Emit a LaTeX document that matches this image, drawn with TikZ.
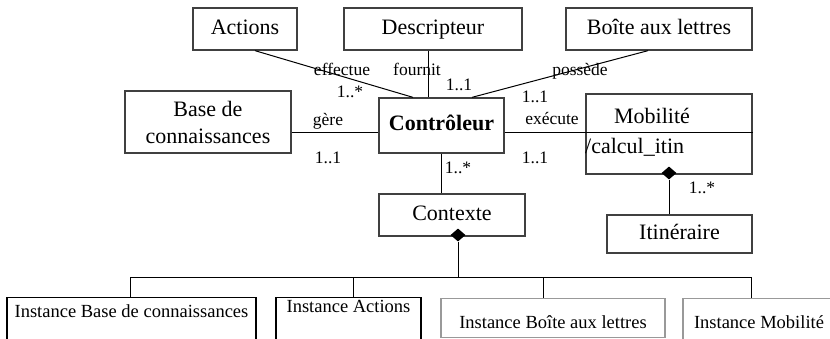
\documentclass[tikz,border=0pt]{standalone}
\usepackage{fontspec}
\setmainfont{Liberation Serif}
\usetikzlibrary{shapes.geometric}

\tikzset{
	classe/.style={draw=black!75, line width=1.3pt, inner sep=0pt, font=\fontsize{22}{27}\selectfont, text height=15pt, text depth=5pt},
	classe2/.style={draw=black!75, line width=1.3pt, inner sep=0pt, align=center, font=\fontsize{22}{27}\selectfont},
	instance/.style={draw=black, line width=1.3pt, inner xsep=0pt, inner ysep=4pt, anchor=north, font=\fontsize{18.5}{22}\selectfont},
	lien/.style={line width=1pt},
	role/.style={inner sep=0pt, anchor=base, font=\fontsize{17.5}{20}\selectfont},
	losange/.style={diamond, fill=black, inner sep=0pt, minimum width=15pt, minimum height=13pt},
}

\begin{document}
\begin{tikzpicture}[x=1pt,y=-1pt]
	
	\useasboundingbox (0,0) rectangle (830,338);
	\clip (0,0) rectangle (830,338);
	
	% classes
	\node [classe, minimum width=104pt, minimum height=42pt] (actions) at (245,29) {Actions};
	\node [classe, minimum width=178pt, minimum height=42pt] (descr) at (433,29) {Descripteur};
	\node [classe, minimum width=186pt, minimum height=42pt] (boite) at (659,29) {Boîte aux lettres};
	\node [classe2, minimum width=166pt, minimum height=62pt] (base) at (208,122) {Base de\\connaissances};
	\node [classe, minimum width=125pt, minimum height=55pt, font=\fontsize{22}{27}\selectfont\bfseries] (ctrl) at (441.5,125.5) {Contrôleur};
	\node [classe, minimum width=166pt, minimum height=80pt] (mob) at (669,134) {};
	\node [inner sep=0pt, anchor=base, font=\fontsize{22}{27}\selectfont] (mobnom) at (652,123) {Mobilité};
	\node [inner sep=0pt, anchor=base west, font=\fontsize{22}{27}\selectfont] (mobattr) at (585,153) {/calcul\_itin};
	\node [classe, minimum width=145pt, minimum height=38pt] (itin) at (679.5,234) {Itinéraire};
	\node [classe, minimum width=146pt, minimum height=42pt] (ctx) at (452,215) {Contexte};
	
	\coordinate (row) at (0,132);
	
	% associations
	\draw [lien] ([xshift=10pt]actions.south) -- ([xshift=-28.5pt]ctrl.north);
	\draw [lien] ([xshift=-5pt]descr.south) -- ([xshift=-5pt]descr.south |- ctrl.north);
	\draw [lien] ([xshift=-11pt]boite.south) -- ([xshift=30.5pt]ctrl.north);
	\draw [lien] (base.east |- row) -- (ctrl.west |- row);
	\draw [lien] (ctrl.east |- row) -- (mob.east |- row);
	\draw [lien] (ctrl.south) -- (ctrl.south |- ctx.north);
	
	\node [role] (effectue) at (342,75) {effectue};
	\node [role] (cardact) at (350,97) {1..*};
	\node [role] (fournit) at (417,75) {fournit};
	\node [role] (carddescr) at (459,90) {1..1};
	\node [role] (possede) at (580,75) {possède};
	\node [role] (cardboite) at (535,102) {1..1};
	\node [role] (gere) at (328,125) {gère};
	\node [role] (cardbase) at (328,163) {1..1};
	\node [role] (execute) at (552,124) {exécute};
	\node [role] (cardmob) at (535,163) {1..1};
	\node [role] (cardctx) at (458,173) {1..*};
	\node [role] (carditin) at (702,193) {1..*};
	
	% compositions
	\node [losange] (moblos) at (669,173) {};
	\draw [lien] (moblos.south) -- (moblos.south |- itin.north);
	\node [losange] (ctxlos) at (458,235) {};
	
	% instances
	\node [instance, minimum width=249pt, text height=16pt, text depth=39pt] (inst1) at (131.5,297) {Instance Base de connaissances};
	\node [instance, minimum width=145pt, text height=11pt, text depth=44pt] (inst2) at (348.5,297) {Instance Actions};
	\node [instance, draw=black!40, minimum width=224pt, text height=26pt, text depth=5pt] (inst3) at (553,298) {Instance Boîte aux lettres};
	\node [instance, draw=black!40, minimum width=152pt, text height=26pt, text depth=28pt] (inst4) at (759,298) {Instance Mobilité};
	
	\coordinate (bus) at (458,277);
	\coordinate (b1) at (130,277);
	\coordinate (b2) at (353,277);
	\coordinate (b3) at (543,277);
	\coordinate (b4) at (751,277);
	\draw [lien] (ctxlos.south) -- (bus);
	\draw [lien] (b1) -- (b4);
	\foreach \i in {1,...,4}
		\draw [lien] (b\i) -- (b\i |- inst\i.north);
	
\end{tikzpicture}
\end{document}
